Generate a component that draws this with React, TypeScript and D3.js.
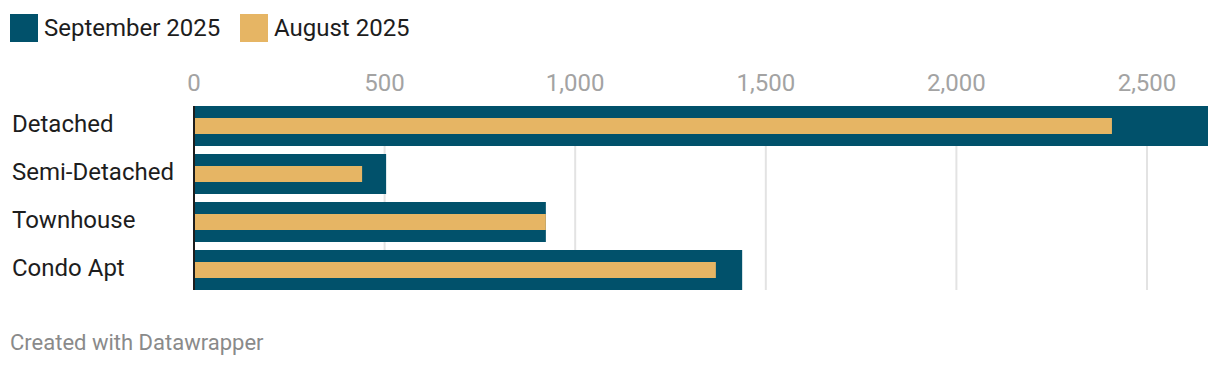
import React from "react";
import * as d3 from "d3";

// values
const categories = ["Detached", "Semi-Detached", "Townhouse", "Condo Apt"];
const september = [2660, 504, 923, 1438];
const august = [2408, 441, 923, 1369];
const ticks = [0, 500, 1000, 1500, 2000, 2500];
const seriesNames = ["September 2025", "August 2025"];

const W = 1220;
const H = 366;
const SEP_COLOR = "#01516b";
const AUG_COLOR = "#e6b564";
const FONT = "Roboto, 'Noto Sans', sans-serif";

const App = () => {
  const x = d3
    .scaleLinear()
    .domain([0, d3.max(september) as number])
    .range([194, 1208]);

  const y = d3
    .scaleBand()
    .domain(categories)
    .range([106, 290])
    .paddingInner(1 / 6)
    .paddingOuter(0);

  const bw = y.bandwidth();
  const plotTop = 106;
  const plotBottom = 290;
  const fmt = d3.format(",");

  return (
    <svg
      width={W}
      height={H}
      style={{ position: "absolute", left: 0, top: 0, fontFamily: FONT }}
    >
      <rect width={W} height={H} fill="#fff" />

      {/* legend */}
      <g>
        <rect x={10} y={14} width={28} height={28} fill={SEP_COLOR} />
        <text x={44} y={36} fontSize={24} fill="#1d1d1d">
          {seriesNames[0]}
        </text>
        <rect x={240} y={14} width={28} height={28} fill={AUG_COLOR} />
        <text x={274} y={36} fontSize={24} fill="#1d1d1d">
          {seriesNames[1]}
        </text>
      </g>

      {/* grid + tick labels */}
      {ticks.map((t) => (
        <g key={t}>
          {t !== 0 && (
            <line
              x1={x(t)}
              x2={x(t)}
              y1={plotTop}
              y2={plotBottom}
              stroke="#e3e3e3"
              strokeWidth={2}
            />
          )}
          <text
            x={x(t)}
            y={91}
            textAnchor="middle"
            fontSize={24}
            fill="#a3a3a3"
          >
            {fmt(t)}
          </text>
        </g>
      ))}

      {/* bars */}
      {categories.map((c, i) => {
        const y0 = y(c) as number;
        return (
          <g key={c}>
            <text x={12} y={y0 + bw / 2 + 6} fontSize={24} fill="#1d1d1d">
              {c}
            </text>
            <rect
              x={x(0)}
              y={y0}
              width={x(september[i]) - x(0)}
              height={bw}
              fill={SEP_COLOR}
            />
            <rect
              x={x(0)}
              y={y0 + 12}
              width={x(august[i]) - x(0)}
              height={bw - 24}
              fill={AUG_COLOR}
            />
          </g>
        );
      })}

      {/* zero baseline */}
      <line
        x1={x(0)}
        x2={x(0)}
        y1={plotTop}
        y2={plotBottom}
        stroke="#1d1d1d"
        strokeWidth={2}
      />

      <text x={10} y={350} fontSize={22} fill="#8a8a8a">
        Created with Datawrapper
      </text>
    </svg>
  );
};

export default App;
